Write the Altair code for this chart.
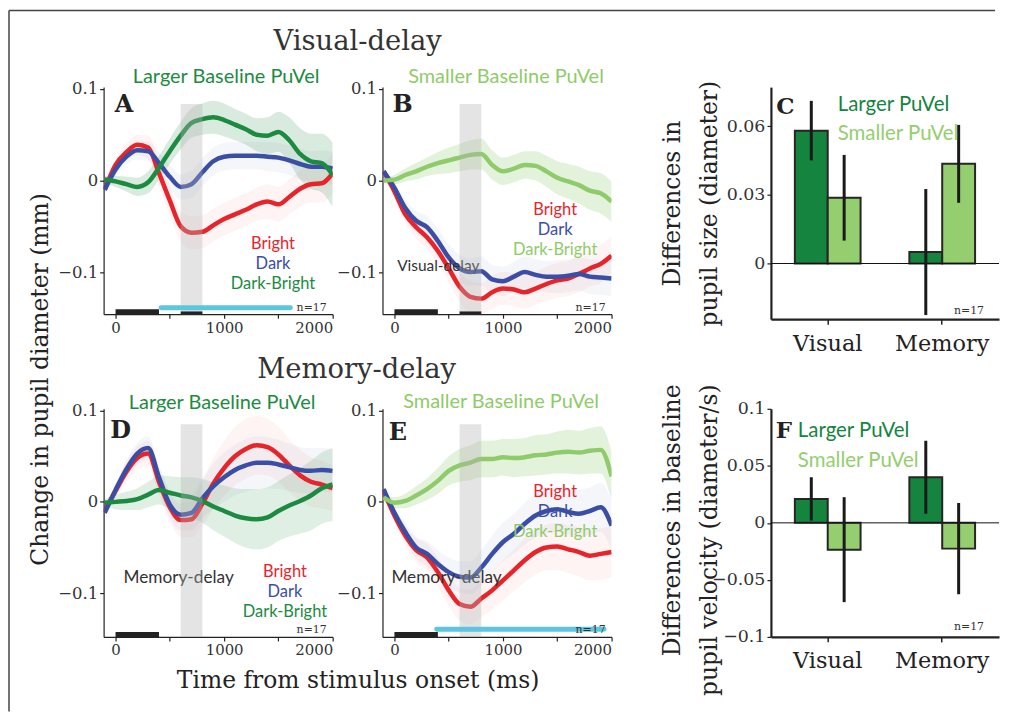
import altair as alt
import pandas as pd

SERIF = "DejaVu Serif"
SANS = "Lato"
INK = "#222222"
RED = "#e8242b"
BLUE = "#3a4ea5"
GREEN = "#1c8b41"
LGREEN = "#8fcb6a"
CYAN = "#5cc6df"
BAR_DARK = "#14843f"
BAR_LIGHT = "#94ce6e"

# ---------------- data: time courses (ms) ----------------
T = [-100, 0, 100, 200, 300, 400, 500, 600, 700, 800, 900, 1000,
     1100, 1200, 1300, 1400, 1500, 1600, 1700, 1800, 1900, 2000]
X_DOMAIN = [-110, 2000]
X_TICKS = [0, 500, 1000, 1500, 2000]
Y_TICKS = [-0.1, 0, 0.1]
STIM = [0, 400]
DELAY = [600, 800]
LEG_LABELS = ["Bright", "Dark", "Dark-Bright"]

# Panel A: visual-delay, larger baseline PuVel
A_BRIGHT = [-0.010, 0.017, 0.031, 0.039, 0.036, 0.008, -0.022, -0.050, -0.057, -0.056, -0.049,
            -0.042, -0.037, -0.032, -0.026, -0.023, -0.026, -0.018, -0.009, -0.004, -0.003, 0.008]
A_BRIGHT_SE = [0.004, 0.007, 0.009, 0.011, 0.013, 0.015, 0.016, 0.017, 0.018, 0.018, 0.018,
               0.018, 0.018, 0.018, 0.018, 0.019, 0.019, 0.019, 0.020, 0.020, 0.021, 0.022]
A_DARK = [-0.010, 0.012, 0.026, 0.033, 0.032, 0.019, 0.004, -0.007, -0.004, 0.009, 0.021,
          0.026, 0.027, 0.027, 0.027, 0.026, 0.025, 0.022, 0.018, 0.015, 0.015, 0.013]
A_DARK_SE = [0.004, 0.006, 0.008, 0.010, 0.011, 0.012, 0.013, 0.014, 0.015, 0.015, 0.015,
             0.015, 0.015, 0.015, 0.015, 0.016, 0.016, 0.016, 0.017, 0.017, 0.018, 0.018]
A_DIFF = [0.001, -0.001, -0.004, -0.007, -0.002, 0.014, 0.032, 0.049, 0.063, 0.067, 0.069,
          0.066, 0.061, 0.056, 0.050, 0.049, 0.053, 0.044, 0.029, 0.021, 0.019, 0.006]
A_DIFF_SE = [0.004, 0.006, 0.008, 0.010, 0.012, 0.013, 0.014, 0.015, 0.016, 0.017, 0.018,
             0.018, 0.017, 0.017, 0.018, 0.020, 0.022, 0.025, 0.028, 0.030, 0.032, 0.035]
A_SIG = [420, 1610]

# Panel B: visual-delay, smaller baseline PuVel
B_BRIGHT = [0.010, -0.012, -0.037, -0.051, -0.062, -0.077, -0.096, -0.116, -0.127, -0.129, -0.122,
            -0.118, -0.119, -0.122, -0.118, -0.113, -0.109, -0.107, -0.102, -0.096, -0.091, -0.082]
B_BRIGHT_SE = [0.004, 0.007, 0.010, 0.012, 0.013, 0.014, 0.015, 0.016, 0.017, 0.017, 0.018,
               0.018, 0.018, 0.018, 0.018, 0.019, 0.019, 0.019, 0.020, 0.020, 0.021, 0.021]
B_DARK = [0.010, -0.008, -0.030, -0.044, -0.051, -0.066, -0.084, -0.096, -0.100, -0.099, -0.108,
          -0.110, -0.105, -0.100, -0.103, -0.105, -0.105, -0.104, -0.102, -0.105, -0.106, -0.107]
B_DARK_SE = [0.004, 0.006, 0.009, 0.011, 0.012, 0.013, 0.014, 0.015, 0.015, 0.016, 0.016,
             0.016, 0.016, 0.017, 0.017, 0.017, 0.018, 0.018, 0.018, 0.019, 0.019, 0.019]
B_DIFF = [0.000, 0.001, 0.006, 0.010, 0.015, 0.019, 0.022, 0.025, 0.028, 0.029, 0.017,
          0.010, 0.013, 0.017, 0.016, 0.010, 0.003, -0.001, -0.005, -0.011, -0.014, -0.023]
B_DIFF_SE = [0.003, 0.005, 0.007, 0.009, 0.010, 0.012, 0.014, 0.015, 0.016, 0.017, 0.016,
             0.015, 0.015, 0.015, 0.016, 0.017, 0.018, 0.019, 0.020, 0.021, 0.022, 0.022]

# Panel D: memory-delay, larger baseline PuVel
D_BRIGHT = [-0.010, 0.012, 0.033, 0.048, 0.053, 0.022, -0.006, -0.020, -0.019, -0.002, 0.020,
            0.037, 0.050, 0.058, 0.062, 0.060, 0.052, 0.040, 0.029, 0.022, 0.019, 0.015]
D_BRIGHT_SE = [0.004, 0.008, 0.011, 0.013, 0.014, 0.015, 0.016, 0.018, 0.020, 0.024, 0.028,
               0.030, 0.032, 0.033, 0.032, 0.031, 0.030, 0.029, 0.028, 0.027, 0.026, 0.025]
D_DARK = [-0.012, 0.013, 0.036, 0.053, 0.059, 0.027, -0.003, -0.014, -0.012, 0.004, 0.017,
          0.027, 0.035, 0.040, 0.043, 0.043, 0.041, 0.038, 0.035, 0.034, 0.035, 0.034]
D_DARK_SE = [0.004, 0.007, 0.010, 0.012, 0.013, 0.014, 0.015, 0.017, 0.019, 0.022, 0.025,
             0.027, 0.028, 0.029, 0.029, 0.028, 0.027, 0.026, 0.025, 0.025, 0.024, 0.024]
D_DIFF = [-0.001, 0.000, 0.001, 0.003, 0.008, 0.013, 0.010, 0.007, 0.005, 0.001, -0.005,
          -0.010, -0.015, -0.018, -0.019, -0.017, -0.010, -0.004, 0.001, 0.007, 0.015, 0.019]
D_DIFF_SE = [0.004, 0.008, 0.010, 0.012, 0.014, 0.016, 0.018, 0.020, 0.022, 0.024, 0.026,
             0.028, 0.030, 0.032, 0.033, 0.033, 0.033, 0.034, 0.036, 0.038, 0.039, 0.040]

# Panel E: memory-delay, smaller baseline PuVel
E_BRIGHT = [0.012, -0.015, -0.037, -0.053, -0.061, -0.077, -0.097, -0.112, -0.115, -0.106, -0.097,
            -0.086, -0.075, -0.064, -0.055, -0.050, -0.049, -0.052, -0.055, -0.059, -0.057, -0.055]
E_BRIGHT_SE = [0.004, 0.008, 0.011, 0.013, 0.015, 0.016, 0.017, 0.018, 0.019, 0.020, 0.021,
               0.022, 0.023, 0.024, 0.025, 0.025, 0.026, 0.026, 0.027, 0.027, 0.028, 0.028]
E_DARK = [0.014, -0.012, -0.033, -0.050, -0.057, -0.068, -0.077, -0.082, -0.083, -0.072, -0.057,
          -0.044, -0.035, -0.024, -0.015, -0.010, -0.008, -0.011, -0.013, -0.010, -0.006, -0.026]
E_DARK_SE = [0.004, 0.007, 0.010, 0.012, 0.014, 0.015, 0.016, 0.017, 0.018, 0.019, 0.020,
             0.021, 0.022, 0.023, 0.024, 0.024, 0.025, 0.025, 0.026, 0.026, 0.027, 0.027]
E_DIFF = [0.005, -0.001, 0.001, 0.007, 0.014, 0.023, 0.034, 0.040, 0.043, 0.047, 0.047,
          0.049, 0.048, 0.049, 0.051, 0.052, 0.054, 0.055, 0.054, 0.056, 0.057, 0.028]
E_DIFF_SE = [0.004, 0.006, 0.008, 0.010, 0.012, 0.014, 0.016, 0.018, 0.019, 0.020, 0.020,
             0.020, 0.021, 0.021, 0.022, 0.022, 0.023, 0.024, 0.024, 0.025, 0.026, 0.027]
E_SIG = [390, 1930]

# ---------------- data: bar panels ----------------
CATS = ["Visual", "Memory"]
GROUPS = ["Larger PuVel", "Smaller PuVel"]
C_LARGER = [0.058, 0.005]
C_LARGER_ERR = [0.013, 0.0275]
C_SMALLER = [0.0287, 0.0435]
C_SMALLER_ERR = [0.0187, 0.017]
C_TICKS = [0, 0.03, 0.06]
F_LARGER = [0.021, 0.040]
F_LARGER_ERR = [0.019, 0.032]
F_SMALLER = [-0.0235, -0.0226]
F_SMALLER_ERR = [0.046, 0.040]
F_TICKS = [-0.1, -0.05, 0, 0.05, 0.1]

Y_TITLE = "Change in pupil diameter (mm)"
X_TITLE = "Time from stimulus onset (ms)"
N_LABEL = "n=17"


def txt(s, x, y, size, color=INK, font=SANS, weight="normal", align="center",
        baseline="middle", angle=0):
    return alt.Chart(pd.DataFrame({"s": [s]})).mark_text(
        font=font, fontSize=size, fontWeight=weight, color=color, align=align,
        baseline=baseline, angle=angle
    ).encode(x=alt.value(x), y=alt.value(y), text="s:N")


def line_panel(bright, bright_se, dark, dark_se, diff, diff_se, diff_color, diff_op,
               ydom, height, letter, letter_pos, leg_t, leg_y, top_title, top_color, top_xy,
               gray_top, n_y, annot=None, sig=None, sig_y=-0.139, delay_mark=False,
               ytitle=False, xtitle=False, extra=()):
    xs = alt.Scale(domain=X_DOMAIN, nice=False, zero=False)
    ys = alt.Scale(domain=ydom, nice=False, zero=False)
    xkw = dict(values=X_TICKS, format="d", labelFont=SERIF, labelFontSize=15,
               labelColor="#333333", tickSize=4, tickColor=INK, tickWidth=1.2,
               domainColor=INK, domainWidth=1.2, labelPadding=2, grid=False)
    if xtitle:
        xkw.update(title=X_TITLE, titleX=255, titleY=51, titleBaseline="alphabetic",
                   titleAlign="center", titleFont=SERIF, titleFontSize=23.5,
                   titleFontWeight="normal", titleColor=INK)
    else:
        xkw.update(title=None)
    ykw = dict(values=Y_TICKS, format="~g", labelFont=SERIF, labelFontSize=16.5,
               labelColor="#333333", tickSize=4, tickColor=INK, tickWidth=1.2,
               domainColor=INK, domainWidth=1.2, labelPadding=2, grid=False)
    if ytitle:
        ykw.update(title=Y_TITLE, titleX=-63, titleY=293, titleAngle=270,
                   titleAlign="center", titleBaseline="middle", titleFont=SERIF,
                   titleFontSize=23.5, titleFontWeight="normal", titleColor=INK)
    else:
        ykw.update(title=None)
    xaxis = alt.Axis(**xkw)
    yaxis = alt.Axis(**ykw)

    def X(f):
        return alt.X(f, scale=xs, axis=xaxis)

    def Y(f):
        return alt.Y(f, scale=ys, axis=yaxis)

    def frame(vals, se):
        return pd.DataFrame({"t": T, "v": vals,
                             "lo": [v - s for v, s in zip(vals, se)],
                             "hi": [v + s for v, s in zip(vals, se)]})

    series = [(bright, bright_se, RED, 0.05), (dark, dark_se, BLUE, 0.05),
              (diff, diff_se, diff_color, diff_op)]
    layers = []
    for vals, se, col, op in series:
        layers.append(alt.Chart(frame(vals, se)).mark_area(
            color=col, opacity=op, interpolate="monotone", clip=True
        ).encode(x=X("t:Q"), y=Y("lo:Q"), y2="hi:Q"))
    for vals, se, col, op in series:
        layers.append(alt.Chart(frame(vals, se)).mark_line(
            color=col, strokeWidth=4.5, interpolate="monotone", clip=True
        ).encode(x=X("t:Q"), y=Y("v:Q")))

    if annot is not None:
        s, at, ay, asz = annot
        layers.append(alt.Chart(pd.DataFrame({"t": [at], "v": [ay], "s": [s]})).mark_text(
            font=SANS, fontSize=asz, color="#333333", align="center", baseline="middle"
        ).encode(x=X("t:Q"), y=Y("v:Q"), text="s:N"))

    # gray delay window
    layers.append(alt.Chart(pd.DataFrame({"t0": [DELAY[0]], "t1": [DELAY[1]],
                                          "y0": [ydom[0]], "y1": [gray_top]})).mark_rect(
        color="#b3b3b3", opacity=0.35
    ).encode(x=X("t0:Q"), x2="t1:Q", y=Y("y0:Q"), y2="y1:Q"))
    # stimulus bar
    layers.append(alt.Chart(pd.DataFrame({"t0": [STIM[0]], "t1": [STIM[1]],
                                          "y0": [ydom[0]], "y1": [ydom[0] + 0.0055]})).mark_rect(
        color="#222222"
    ).encode(x=X("t0:Q"), x2="t1:Q", y=Y("y0:Q"), y2="y1:Q"))
    if delay_mark:
        layers.append(alt.Chart(pd.DataFrame({"t0": [DELAY[0]], "t1": [DELAY[1]],
                                              "y0": [ydom[0]], "y1": [ydom[0] + 0.003]})).mark_rect(
            color="#222222"
        ).encode(x=X("t0:Q"), x2="t1:Q", y=Y("y0:Q"), y2="y1:Q"))
    if sig is not None:
        layers.append(alt.Chart(pd.DataFrame({"t0": [sig[0]], "t1": [sig[1]], "y": [sig_y]})).mark_rule(
            color=CYAN, strokeWidth=5, strokeCap="round"
        ).encode(x=X("t0:Q"), x2="t1:Q", y=Y("y:Q")))

    # legend text
    layers.append(alt.Chart(pd.DataFrame({"t": [leg_t] * 3, "v": leg_y, "s": LEG_LABELS,
                                          "c": [RED, BLUE, diff_color]})).mark_text(
        font=SANS, fontSize=16.5, align="center", baseline="middle"
    ).encode(x=X("t:Q"), y=Y("v:Q"), text="s:N", color=alt.Color("c:N", scale=None)))
    # panel letter
    layers.append(alt.Chart(pd.DataFrame({"t": [letter_pos[0]], "v": [letter_pos[1]],
                                          "s": [letter]})).mark_text(
        font=SERIF, fontSize=24, fontWeight="bold", color=INK, align="center", baseline="middle"
    ).encode(x=X("t:Q"), y=Y("v:Q"), text="s:N"))
    # n label
    layers.append(alt.Chart(pd.DataFrame({"t": [1945], "v": [n_y], "s": [N_LABEL]})).mark_text(
        font=SERIF, fontSize=11, color="#333333", align="right", baseline="middle"
    ).encode(x=X("t:Q"), y=Y("v:Q"), text="s:N"))
    # panel title above
    layers.append(txt(top_title, top_xy[0], top_xy[1], 20, color=top_color))
    layers.extend(extra)
    return alt.layer(*layers).properties(width=230, height=height)


def bar_panel(larger, larger_err, smaller, smaller_err, ydom, yticks, height, letter,
              letter_xy, leg_x, leg_ys, ytitle_lines, n_xy):
    rows = []
    for i, c in enumerate(CATS):
        rows.append({"cond": c, "grp": GROUPS[0], "val": larger[i],
                     "lo": larger[i] - larger_err[i], "hi": larger[i] + larger_err[i]})
        rows.append({"cond": c, "grp": GROUPS[1], "val": smaller[i],
                     "lo": smaller[i] - smaller_err[i], "hi": smaller[i] + smaller_err[i]})
    df = pd.DataFrame(rows)
    xs = alt.Scale(domain=CATS, paddingInner=0.426, paddingOuter=0.209)
    osc = alt.Scale(domain=GROUPS, paddingInner=0, paddingOuter=0)
    ys = alt.Scale(domain=ydom, nice=False, zero=False)
    xaxis = alt.Axis(labelFont=SERIF, labelFontSize=22.5, labelColor=INK, tickSize=5,
                     tickColor=INK, tickWidth=1.5, domainColor=INK, domainWidth=2.2,
                     labelPadding=8, labelAngle=0, title=None, grid=False)
    yaxis = alt.Axis(values=yticks, format="~g", labelFont=SERIF, labelFontSize=17.5,
                     labelColor="#333333", tickSize=4, tickColor=INK, tickWidth=1.2,
                     domainColor=INK, domainWidth=2.2, labelPadding=2, title=None, grid=False)
    bars = alt.Chart(df).mark_bar(stroke="#262626", strokeWidth=2).encode(
        x=alt.X("cond:N", scale=xs, axis=xaxis),
        xOffset=alt.XOffset("grp:N", scale=osc),
        y=alt.Y("val:Q", scale=ys, axis=yaxis),
        y2=alt.datum(0),
        color=alt.Color("grp:N", scale=alt.Scale(domain=GROUPS, range=[BAR_DARK, BAR_LIGHT]),
                        legend=None))
    zero = alt.Chart(pd.DataFrame({"z": [0]})).mark_rule(color="#111111", strokeWidth=1).encode(
        y=alt.Y("z:Q", scale=ys, axis=yaxis))
    errs = alt.Chart(df).mark_rule(color="#1a1a1a", strokeWidth=3).encode(
        x=alt.X("cond:N", scale=xs, axis=xaxis),
        xOffset=alt.XOffset("grp:N", scale=osc),
        y=alt.Y("lo:Q", scale=ys, axis=yaxis), y2="hi:Q")
    layers = [bars, zero, errs,
              txt(letter, letter_xy[0], letter_xy[1], 23, font=SERIF, weight="bold"),
              txt(GROUPS[0], leg_x, leg_ys[0], 20.5, color=BAR_DARK, align="left"),
              txt(GROUPS[1], leg_x, leg_ys[1], 20.5, color=BAR_LIGHT, align="left"),
              txt(N_LABEL, n_xy[0], n_xy[1], 11, color="#333333", font=SERIF, align="right")]
    for s, x, y in ytitle_lines:
        layers.append(txt(s, x, y, 23.5, font=SERIF, angle=270))
    return alt.layer(*layers).properties(width=229, height=height)


# decorative frame and super titles (pixel offsets from panel origin)
frame_top = alt.Chart(pd.DataFrame({"a": [0]})).mark_rule(color="#444444", strokeWidth=1.5).encode(
    x=alt.value(-95), x2=alt.value(895), y=alt.value(-77))
frame_left = alt.Chart(pd.DataFrame({"a": [0]})).mark_rule(color="#444444", strokeWidth=1.5).encode(
    x=alt.value(-95), y=alt.value(-77), y2=alt.value(627))

A = line_panel(A_BRIGHT, A_BRIGHT_SE, A_DARK, A_DARK_SE, A_DIFF, A_DIFF_SE, GREEN, 0.17,
               [-0.146, 0.102], 228, "A", (77, 0.082), 1450, [-0.069, -0.091, -0.113],
               "Larger Baseline PuVel", GREEN, (123, -10), 0.0835, -0.139,
               sig=A_SIG, sig_y=-0.139, delay_mark=True, ytitle=True,
               extra=[frame_top, frame_left,
                      txt("Visual-delay", 255, -37, 27.5, font=SERIF, baseline="alphabetic",
                          color="#333333")])
B = line_panel(B_BRIGHT, B_BRIGHT_SE, B_DARK, B_DARK_SE, B_DIFF, B_DIFF_SE, LGREEN, 0.25,
               [-0.146, 0.102], 228, "B", (76, 0.082), 1480, [-0.032, -0.054, -0.076],
               "Smaller Baseline PuVel", LGREEN, (124, -10), 0.0835, -0.139,
               annot=("Visual-delay", 404, -0.093, 15.5), delay_mark=True)
D = line_panel(D_BRIGHT, D_BRIGHT_SE, D_DARK, D_DARK_SE, D_DIFF, D_DIFF_SE, GREEN, 0.14,
               [-0.148, 0.102], 229, "D", (46, 0.0775), 1560, [-0.077, -0.099, -0.121],
               "Larger Baseline PuVel", GREEN, (119, -6), 0.085, -0.141,
               annot=("Memory-delay", 581, -0.084, 17.3), xtitle=True,
               extra=[txt("Memory-delay", 254, -31, 27.5, font=SERIF, baseline="alphabetic",
                          color="#333333")])
E = line_panel(E_BRIGHT, E_BRIGHT_SE, E_DARK, E_DARK_SE, E_DIFF, E_DIFF_SE, LGREEN, 0.25,
               [-0.148, 0.102], 229, "E", (31, 0.076), 1480, [0.011, -0.011, -0.033],
               "Smaller Baseline PuVel", LGREEN, (119, -7), 0.085, -0.141,
               annot=("Memory-delay", 480, -0.084, 17.3), sig=E_SIG, sig_y=-0.1395)

C = bar_panel(C_LARGER, C_LARGER_ERR, C_SMALLER, C_SMALLER_ERR, [-0.0243, 0.077], C_TICKS, 233,
              "C", (14.5, 20), 67, (18, 47),
              [("Differences in", -98, 117), ("pupil size (diameter)", -61, 117)], (214, 225))
F = bar_panel(F_LARGER, F_LARGER_ERR, F_SMALLER, F_SMALLER_ERR, [-0.1, 0.1], F_TICKS, 229,
              "F", (13, 22), 27, (22, 52),
              [("Differences in baseline", -98, 112), ("pupil velocity (diameter/s)", -61, 132)],
              (214, 219))


def spacer():
    return alt.Chart(pd.DataFrame({"a": [0]})).mark_point(opacity=0).encode(
        x=alt.value(0), y=alt.value(0)).properties(width=60, height=20)


chart = alt.concat(A, B, spacer(), C, D, E, spacer(), F, columns=4,
                   spacing={"row": 90, "column": 50}, bounds="flush", align="each").properties(
    padding={"left": 0, "top": 0, "right": 2, "bottom": 2}
).configure_view(stroke=None)

chart.save("out.html", embed_options={"renderer": "svg", "actions": False})
